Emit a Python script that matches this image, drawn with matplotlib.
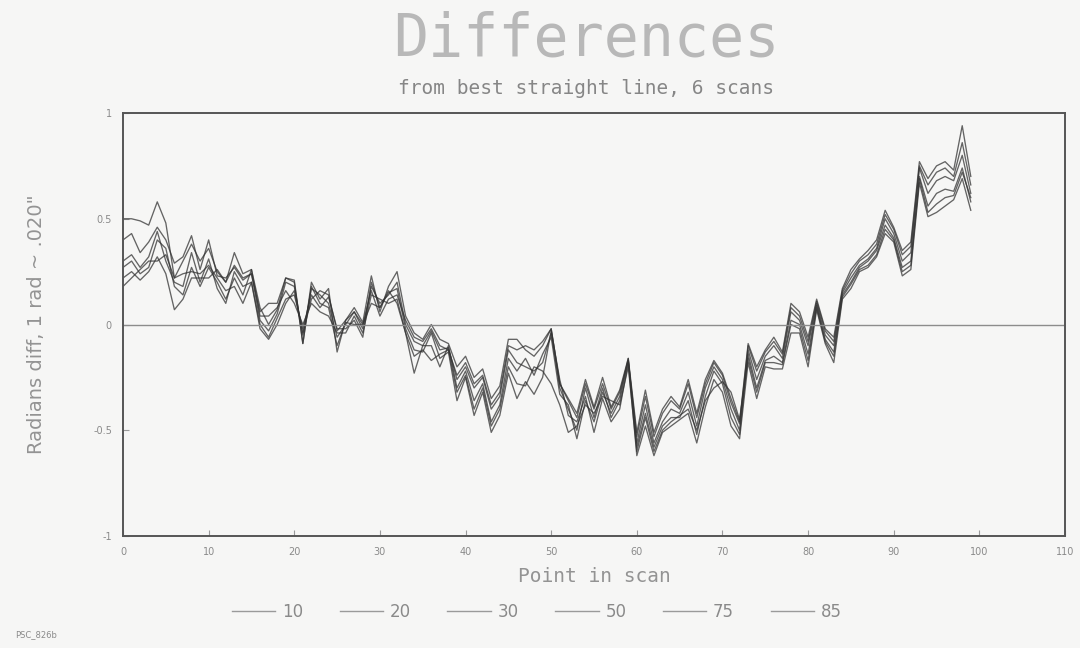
import numpy as np
import matplotlib.pyplot as plt
from matplotlib.lines import Line2D

# point index along the scan
points = np.arange(100)

scan_labels = ["10", "20", "30", "50", "75", "85"]

s10 = [0.50, 0.50, 0.49, 0.47, 0.58, 0.48, 0.22, 0.30, 0.38, 0.30,
       0.36, 0.25, 0.20, 0.34, 0.24, 0.26, 0.08, 0.00, 0.07, 0.22,
       0.21, -0.09, 0.20, 0.12, 0.17, -0.13, 0.02, 0.08, 0.01, 0.23,
       0.06, 0.18, 0.25, 0.04, -0.04, -0.07, 0.00, -0.07, -0.09, -0.20,
       -0.15, -0.25, -0.21, -0.35, -0.29, -0.07, -0.07, -0.12, -0.15, -0.10,
       -0.02, -0.28, -0.35, -0.42, -0.26, -0.39, -0.25, -0.39, -0.31, -0.16,
       -0.51, -0.31, -0.51, -0.40, -0.34, -0.39, -0.26, -0.42, -0.26, -0.17,
       -0.23, -0.35, -0.46, -0.09, -0.20, -0.12, -0.06, -0.13, 0.10, 0.06,
       -0.06, 0.12, -0.02, -0.06, 0.17, 0.26, 0.31, 0.35, 0.40, 0.54,
       0.46, 0.35, 0.39, 0.77, 0.69, 0.75, 0.77, 0.73, 0.94, 0.70]

s20 = [0.40, 0.43, 0.34, 0.39, 0.46, 0.40, 0.29, 0.32, 0.42, 0.26,
       0.40, 0.23, 0.22, 0.27, 0.21, 0.24, 0.02, -0.03, 0.05, 0.20,
       0.18, -0.05, 0.17, 0.14, 0.10, -0.06, 0.00, 0.06, -0.02, 0.18,
       0.10, 0.14, 0.20, 0.00, -0.08, -0.10, -0.03, -0.12, -0.11, -0.26,
       -0.20, -0.30, -0.25, -0.40, -0.34, -0.12, -0.18, -0.20, -0.22, -0.18,
       -0.04, -0.30, -0.40, -0.50, -0.30, -0.44, -0.30, -0.44, -0.36, -0.17,
       -0.56, -0.38, -0.56, -0.46, -0.40, -0.42, -0.32, -0.48, -0.30, -0.20,
       -0.26, -0.40, -0.50, -0.12, -0.26, -0.15, -0.10, -0.16, 0.06, 0.02,
       -0.10, 0.10, -0.05, -0.10, 0.15, 0.22, 0.28, 0.31, 0.36, 0.50,
       0.43, 0.30, 0.34, 0.74, 0.62, 0.68, 0.70, 0.68, 0.80, 0.62]

s30 = [0.30, 0.33, 0.27, 0.32, 0.44, 0.30, 0.20, 0.18, 0.34, 0.20,
       0.31, 0.17, 0.10, 0.25, 0.18, 0.20, 0.00, -0.06, 0.03, 0.12,
       0.14, -0.02, 0.14, 0.08, 0.13, -0.02, -0.02, 0.02, -0.06, 0.20,
       0.08, 0.15, 0.17, -0.02, -0.12, -0.13, -0.04, -0.16, -0.13, -0.36,
       -0.25, -0.43, -0.32, -0.51, -0.43, -0.23, -0.35, -0.27, -0.33, -0.25,
       -0.03, -0.26, -0.43, -0.46, -0.34, -0.51, -0.35, -0.46, -0.40, -0.18,
       -0.62, -0.48, -0.62, -0.51, -0.48, -0.45, -0.42, -0.56, -0.39, -0.26,
       -0.32, -0.48, -0.54, -0.18, -0.35, -0.20, -0.21, -0.21, -0.04, -0.04,
       -0.20, 0.07, -0.09, -0.18, 0.12, 0.17, 0.25, 0.27, 0.32, 0.43,
       0.39, 0.23, 0.26, 0.67, 0.51, 0.53, 0.56, 0.59, 0.69, 0.54]

s50 = [0.27, 0.30, 0.24, 0.27, 0.40, 0.36, 0.18, 0.14, 0.27, 0.18,
       0.27, 0.20, 0.12, 0.22, 0.14, 0.26, 0.04, 0.04, 0.08, 0.16,
       0.10, 0.00, 0.10, 0.06, 0.04, -0.04, -0.04, 0.04, -0.04, 0.14,
       0.12, 0.10, 0.12, -0.04, -0.23, -0.10, -0.10, -0.20, -0.10, -0.30,
       -0.22, -0.36, -0.28, -0.46, -0.38, -0.16, -0.22, -0.16, -0.24, -0.14,
       -0.06, -0.33, -0.38, -0.54, -0.36, -0.46, -0.32, -0.42, -0.34, -0.16,
       -0.58, -0.42, -0.58, -0.48, -0.44, -0.44, -0.36, -0.52, -0.34, -0.22,
       -0.28, -0.44, -0.52, -0.14, -0.30, -0.17, -0.15, -0.18, 0.02, 0.00,
       -0.14, 0.09, -0.07, -0.13, 0.14, 0.20, 0.27, 0.30, 0.35, 0.47,
       0.41, 0.27, 0.30, 0.70, 0.56, 0.62, 0.64, 0.63, 0.74, 0.58]

s75 = [0.22, 0.25, 0.21, 0.25, 0.32, 0.24, 0.07, 0.12, 0.22, 0.22,
       0.22, 0.26, 0.20, 0.28, 0.22, 0.24, 0.06, 0.10, 0.10, 0.22,
       0.20, -0.09, 0.18, 0.10, 0.08, -0.10, 0.01, 0.00, 0.00, 0.16,
       0.04, 0.12, 0.14, 0.02, -0.06, -0.08, -0.02, -0.10, -0.12, -0.24,
       -0.18, -0.28, -0.24, -0.38, -0.32, -0.10, -0.12, -0.10, -0.12, -0.08,
       -0.02, -0.28, -0.36, -0.44, -0.28, -0.40, -0.28, -0.40, -0.32, -0.17,
       -0.53, -0.34, -0.53, -0.42, -0.36, -0.40, -0.28, -0.44, -0.28, -0.18,
       -0.24, -0.37, -0.47, -0.10, -0.22, -0.13, -0.08, -0.14, 0.08, 0.04,
       -0.08, 0.11, -0.03, -0.08, 0.16, 0.24, 0.30, 0.33, 0.38, 0.52,
       0.45, 0.33, 0.37, 0.75, 0.66, 0.72, 0.74, 0.70, 0.86, 0.66]

s85 = [0.18, 0.22, 0.26, 0.30, 0.30, 0.33, 0.22, 0.24, 0.25, 0.24,
       0.28, 0.22, 0.16, 0.18, 0.10, 0.20, -0.02, -0.07, 0.00, 0.10,
       0.16, -0.04, 0.12, 0.16, 0.14, -0.03, 0.02, 0.06, 0.00, 0.10,
       0.08, 0.16, 0.10, -0.04, -0.15, -0.12, -0.17, -0.14, -0.12, -0.32,
       -0.24, -0.40, -0.30, -0.48, -0.40, -0.20, -0.28, -0.29, -0.20, -0.22,
       -0.28, -0.38, -0.51, -0.48, -0.38, -0.42, -0.34, -0.36, -0.38, -0.20,
       -0.60, -0.44, -0.60, -0.50, -0.46, -0.43, -0.40, -0.50, -0.36, -0.30,
       -0.27, -0.32, -0.45, -0.16, -0.32, -0.18, -0.18, -0.19, 0.00, -0.02,
       -0.17, 0.08, -0.08, -0.15, 0.13, 0.19, 0.26, 0.28, 0.33, 0.45,
       0.40, 0.25, 0.28, 0.69, 0.53, 0.57, 0.60, 0.61, 0.72, 0.60]

scans = [s10, s20, s30, s50, s75, s85]

xticks = [0, 10, 20, 30, 40, 50, 60, 70, 80, 90, 100, 110]
yticks = [-1, -0.5, 0, 0.5, 1]
ytick_labels = ["-1", "-0.5", "0", "0.5", "1"]

txt = "#8a8a8a"
bg = "#f6f6f5"
mono = "DejaVu Sans Mono"

fig = plt.figure(figsize=(10.8, 6.48), dpi=100, facecolor=bg)
ax = fig.add_axes([0.1139, 0.1728, 0.8722, 0.6528], facecolor=bg)

for s in scans:
    ax.plot(points, s, color="#333333", lw=0.95, alpha=0.75)

ax.axhline(0, color="#8c8c8c", lw=1.0)

ax.set_xlim(0, 110)
ax.set_ylim(-1, 1)
ax.set_xticks(xticks)
ax.set_yticks(yticks)
ax.set_yticklabels(ytick_labels)
ax.tick_params(direction="in", length=4, width=0.8, colors="#9a9a9a",
               labelcolor=txt, labelsize=7, pad=8)
for sp in ax.spines.values():
    sp.set_color("#555555")
    sp.set_linewidth(1.4)

ax.set_xlabel("Point in scan", fontsize=14, color="#939393", family=mono, labelpad=7)
ax.set_ylabel('Radians diff, 1 rad ~ .020"', fontsize=14, color="#939393", labelpad=34)

fig.text(0.543, 0.94, "Differences", ha="center", va="center",
         fontsize=42, color="#b8b8b8", family=mono)
fig.text(0.543, 0.863, "from best straight line, 6 scans", ha="center", va="center",
         fontsize=14, color="#868686", family=mono)

handles = [Line2D([], [], color="#9a9a9a", lw=1.0) for _ in scan_labels]
leg = fig.legend(handles, scan_labels, loc="center", bbox_to_anchor=(0.497, 0.056),
                 ncol=6, frameon=False, handlelength=2.6, handletextpad=0.4,
                 columnspacing=2.2, fontsize=12)
for t in leg.get_texts():
    t.set_color(txt)

fig.text(0.014, 0.017, "PSC_826b", fontsize=6, color="#8a8a8a")

fig.savefig("out.png", dpi=100, facecolor=bg)
